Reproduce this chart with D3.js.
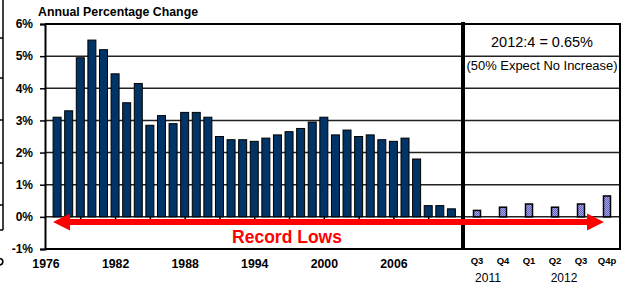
<!DOCTYPE html>
<html>
<head>
<meta charset="utf-8">
<script src="https://cdn.jsdelivr.net/npm/d3@7"></script>
<style>
  body { margin: 0; background: #fff; }
  svg { display: block; font-family: "Liberation Sans", Arial, sans-serif; }
</style>
</head>
<body>
<div id="chart"></div>
<script>
// annual values, 1977 - 2011
var years = d3.range(1977, 2012);
var annualValues = [3.1, 3.3, 4.95, 5.5, 5.2, 4.45, 3.55, 4.15, 2.85, 3.15, 2.9, 3.25, 3.25, 3.1,
  2.5, 2.4, 2.4, 2.35, 2.45, 2.55, 2.65, 2.75, 2.95, 3.1, 2.55, 2.7, 2.5, 2.55, 2.4, 2.35, 2.45,
  1.8, 0.35, 0.35, 0.25];
var yearLabels = [1976, 1982, 1988, 1994, 2000, 2006];

// quarterly values, 2011:3 - 2012:4p
var quarters = ["Q3", "Q4", "Q1", "Q2", "Q3", "Q4p"];
var quarterValues = [0.2, 0.3, 0.4, 0.3, 0.4, 0.65];
var quarterYears = ["2011", "2012"];

var yTicks = [-1, 0, 1, 2, 3, 4, 5, 6];

const width = 624, height = 291;
const svg = d3.select("#chart").append("svg")
  .attr("width", width)
  .attr("height", height);

const y = d3.scaleLinear().domain([-1, 6]).range([249, 24]);
const x = d3.scaleLinear().domain([1976, 2012]).range([45.5, 463]);
const xq = d3.scaleBand().domain(d3.range(quarters.length)).range([464, 620]);

// hatched fill for the quarterly bars
const pat = svg.append("defs").append("pattern")
  .attr("id", "hatch")
  .attr("patternUnits", "userSpaceOnUse")
  .attr("width", 2).attr("height", 2);
pat.append("rect").attr("width", 2).attr("height", 2).attr("fill", "#a4a4ea");
pat.append("rect").attr("width", 1).attr("height", 1).attr("fill", "#6464bc");
pat.append("rect").attr("x", 1).attr("y", 1).attr("width", 1).attr("height", 1).attr("fill", "#6464bc");

// cropped edge of a neighbouring chart
const edge = svg.append("g").attr("stroke", "#000").attr("stroke-width", 1.5);
edge.append("line").attr("x1", 3).attr("x2", 3).attr("y1", 0).attr("y2", 230);
[38, 78, 120, 163, 205, 230].forEach(function(t) {
  edge.append("line").attr("x1", 0).attr("x2", 3).attr("y1", t).attr("y2", t);
});
svg.append("path")
  .attr("d", "M0,258.5 Q2.8,259 2.8,261.5 Q2.8,264.5 0,265")
  .attr("fill", "none").attr("stroke", "#000").attr("stroke-width", 1.6);

// gridlines
const grid = svg.append("g");
yTicks.forEach(function(t) {
  const edgeLine = (t == 6 || t == -1);
  grid.append("line")
    .attr("x1", 45).attr("x2", 620)
    .attr("y1", y(t)).attr("y2", y(t))
    .attr("stroke", edgeLine ? "#000" : "#222")
    .attr("stroke-width", edgeLine ? 2 : 1.5);
});

// annual bars
svg.append("g").selectAll("rect")
  .data(annualValues)
  .join("rect")
  .attr("x", function(d, i) { return x(years[i]) - 4; })
  .attr("y", function(d) { return y(d); })
  .attr("width", 8)
  .attr("height", function(d) { return y(0) - y(d); })
  .attr("fill", "#003366")
  .attr("stroke", "#000")
  .attr("stroke-width", 1);

// quarterly bars
svg.append("g").selectAll("rect")
  .data(quarterValues)
  .join("rect")
  .attr("x", function(d, i) { return xq(i) + xq.bandwidth() / 2 - 3.5; })
  .attr("y", function(d) { return y(d); })
  .attr("width", 7)
  .attr("height", function(d) { return y(0) - y(d); })
  .attr("fill", "url(#hatch)")
  .attr("stroke", "#000")
  .attr("stroke-width", 1.5);

// y axis
svg.append("g")
  .attr("transform", "translate(45,0)")
  .call(d3.axisLeft(y).tickValues(yTicks).tickSize(5).tickPadding(7)
    .tickFormat(function(d) { return d + "%"; }))
  .call(function(g) {
    g.select(".domain").attr("stroke-width", 2);
    g.selectAll(".tick line").attr("stroke-width", 1.5);
    g.selectAll("text").attr("font-size", 12).attr("font-weight", "bold")
      .attr("font-family", "Liberation Sans, Arial, sans-serif").attr("fill", "#000");
  });

// x tick marks on the zero line
svg.append("g")
  .attr("transform", `translate(0,${y(0)})`)
  .call(d3.axisBottom(x).tickValues(d3.range(1979, 2012, 3)).tickSize(3).tickFormat(""))
  .call(function(g) {
    g.select(".domain").remove();
    g.selectAll(".tick line").attr("stroke-width", 1.5);
  });

// year labels
svg.append("g")
  .attr("transform", "translate(0,256)")
  .call(d3.axisBottom(x).tickValues(yearLabels).tickSize(0).tickFormat(d3.format("d")))
  .call(function(g) {
    g.select(".domain").remove();
    g.selectAll("text").attr("font-size", 12.3).attr("font-weight", "bold")
      .attr("font-family", "Liberation Sans, Arial, sans-serif").attr("fill", "#000");
  });

// quarter labels
svg.append("g")
  .attr("transform", "translate(0,254)")
  .call(d3.axisBottom(xq).tickSize(0).tickFormat(function(i) { return quarters[i]; }))
  .call(function(g) {
    g.select(".domain").remove();
    g.selectAll("text").attr("font-size", 9.5).attr("font-weight", "bold")
      .attr("font-family", "Liberation Sans, Arial, sans-serif").attr("fill", "#000");
  });

svg.append("g").selectAll("text")
  .data(quarterYears)
  .join("text")
  .attr("x", function(d, i) { return i == 0 ? (xq(0) + xq(1)) / 2 + xq.bandwidth() / 2 - 2 : (xq(2) + xq(5)) / 2 + xq.bandwidth() / 2 - 4; })
  .attr("y", 282)
  .attr("text-anchor", "middle")
  .attr("font-size", 12)
  .text(function(d) { return d; });

// panel frame
svg.append("line").attr("x1", 463).attr("x2", 463).attr("y1", 22).attr("y2", 250)
  .attr("stroke", "#000").attr("stroke-width", 4);
svg.append("line").attr("x1", 620).attr("x2", 620).attr("y1", 23).attr("y2", 250)
  .attr("stroke", "#000").attr("stroke-width", 2);

// red double arrow
const arrowY = 222;
const ax0 = 53, ax1 = 604, head = 17, half = 8.5;
svg.append("line")
  .attr("x1", ax0 + head - 2).attr("x2", ax1 - head + 2)
  .attr("y1", arrowY).attr("y2", arrowY)
  .attr("stroke", "#ff0000").attr("stroke-width", 6);
svg.append("path")
  .attr("d", `M${ax0},${arrowY} L${ax0 + head},${arrowY - half} L${ax0 + head},${arrowY + half} Z`)
  .attr("fill", "#ff0000");
svg.append("path")
  .attr("d", `M${ax1},${arrowY} L${ax1 - head},${arrowY - half} L${ax1 - head},${arrowY + half} Z`)
  .attr("fill", "#ff0000");

svg.append("text")
  .attr("x", 287).attr("y", 243)
  .attr("text-anchor", "middle")
  .attr("font-size", 17.5).attr("font-weight", "bold")
  .attr("fill", "#ff0000")
  .text("Record Lows");

// title
svg.append("text")
  .attr("x", 38).attr("y", 16)
  .attr("font-size", 12).attr("font-weight", "bold")
  .attr("textLength", 160).attr("lengthAdjust", "spacingAndGlyphs")
  .text("Annual Percentage Change");

// annotation in the quarterly panel
svg.append("text")
  .attr("x", 542).attr("y", 47)
  .attr("text-anchor", "middle")
  .attr("font-size", 14.5)
  .text("2012:4 = 0.65%");
svg.append("text")
  .attr("x", 542).attr("y", 70)
  .attr("text-anchor", "middle")
  .attr("font-size", 12.5)
  .attr("textLength", 151).attr("lengthAdjust", "spacingAndGlyphs")
  .text("(50% Expect No Increase)");
</script>
</body>
</html>
